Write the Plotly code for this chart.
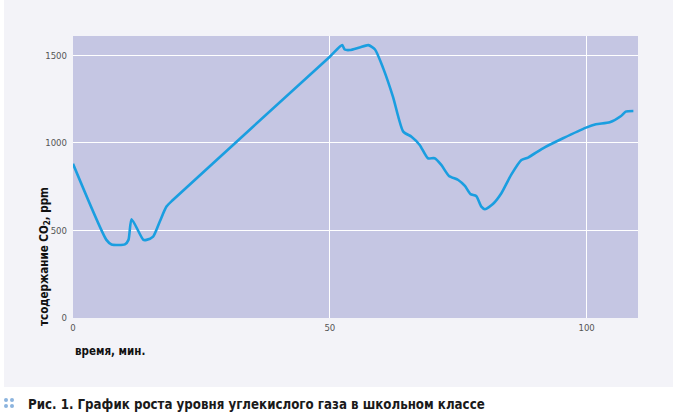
import plotly.graph_objects as go

# время, мин.
time_min = [0, 6.5, 7.5, 10.1, 10.8, 11.4, 13.7, 14.3, 15.6, 16.9, 18.2, 19.5,
            50, 52.4, 52.9, 53.9, 55.8, 57.5, 58.8, 60.4, 62.3, 64.3, 65.9,
            67.5, 69.1, 70.4, 71.7, 73.2, 75.0, 76.3, 77.4, 78.5, 79.5, 80.2,
            81.8, 83.4, 85.3, 87.3, 88.6, 91.5, 95.4, 99.9, 101.8, 104.5,
            106.7, 107.6, 109.1]
# содержание CO2, ppm
co2_ppm = [880, 446, 420, 420, 446, 564, 446, 446, 465, 551, 636, 675,
           1492, 1558, 1533, 1530, 1545, 1558, 1533, 1425, 1263, 1064, 1035,
           988, 912, 912, 874, 811, 788, 754, 707, 697, 636, 621,
           652, 712, 817, 902, 916, 969, 1026, 1087, 1106, 1117,
           1153, 1178, 1182]

x_ticks = [0, 50, 100]
y_ticks = [0, 500, 1000, 1500]

cond = "DejaVu Sans Condensed, DejaVu Sans"
tick_font = dict(family=cond, size=9.5, color="#555555")

fig = go.Figure()
fig.add_trace(go.Scatter(
    x=time_min, y=co2_ppm, mode="lines",
    line=dict(color="#1a9ee0", width=2.6, shape="spline", smoothing=0.6),
    hoverinfo="x+y", showlegend=False,
))

W, H = 565, 282  # размер области построения в пикселях

fig.update_layout(
    width=678, height=417,
    margin=dict(l=73, r=40, t=36, b=99),
    paper_bgcolor="#f3f3f8",
    plot_bgcolor="#c5c6e3",
    font=dict(family=cond, color="#1a1a1a"),
    xaxis=dict(range=[0, 110], tickvals=x_ticks, showgrid=True,
               gridcolor="white", gridwidth=1, zeroline=False,
               showline=False, ticks="", tickfont=tick_font, ticklabelstandoff=2),
    yaxis=dict(range=[0, 1610], tickvals=y_ticks, showgrid=True,
               gridcolor="white", gridwidth=1, zeroline=False,
               showline=False, ticks="", tickfont=tick_font, ticklabelstandoff=5),
    shapes=[
        # белые поля вокруг светлой подложки
        dict(type="rect", xref="paper", yref="paper", layer="below",
             x0=-80 / W, x1=650 / W, y0=-110 / H, y1=-69 / H,
             fillcolor="white", line=dict(width=0)),
        dict(type="rect", xref="paper", yref="paper", layer="below",
             x0=-80 / W, x1=-69 / W, y0=-110 / H, y1=50 / H + 1,
             fillcolor="white", line=dict(width=0)),
        dict(type="rect", xref="paper", yref="paper", layer="below",
             x0=600 / W, x1=650 / W, y0=-110 / H, y1=50 / H + 1,
             fillcolor="white", line=dict(width=0)),
    ],
    annotations=[
        dict(text="<b>время, мин.</b>", xref="paper", yref="paper",
             x=0, y=-33 / H, xanchor="left", yanchor="middle",
             showarrow=False,
             font=dict(family=cond, size=11.5, color="#111")),
        dict(text="<b>тсодержание CO<sub>2</sub>, ppm</b>", xref="paper",
             yref="paper", x=-29 / W, y=61 / H, xanchor="center",
             yanchor="middle", textangle=-90, showarrow=False,
             font=dict(family=cond, size=11.5, color="#111")),
        dict(text="<b>Рис. 1. График роста уровня углекислого газа в школьном классе</b>",
             xref="paper", yref="paper", x=-47 / W, y=-86 / H,
             xanchor="left", yanchor="middle", showarrow=False,
             font=dict(family=cond, size=13.2, color="#1a1a1a")),
    ],
)

# значок из четырёх точек перед подписью
for dx in (0, 6):
    for dy in (0, 6):
        fig.add_shape(type="circle", xref="paper", yref="paper",
                      x0=(-69 + dx) / W, x1=(-65 + dx) / W,
                      y0=(-86 + 2 - dy) / H, y1=(-86 + 6 - dy) / H,
                      fillcolor="#8cb4de", line=dict(width=0))

fig.write_html("out.html", config={"displayModeBar": False},
               post_script="document.body.style.margin='0';")
